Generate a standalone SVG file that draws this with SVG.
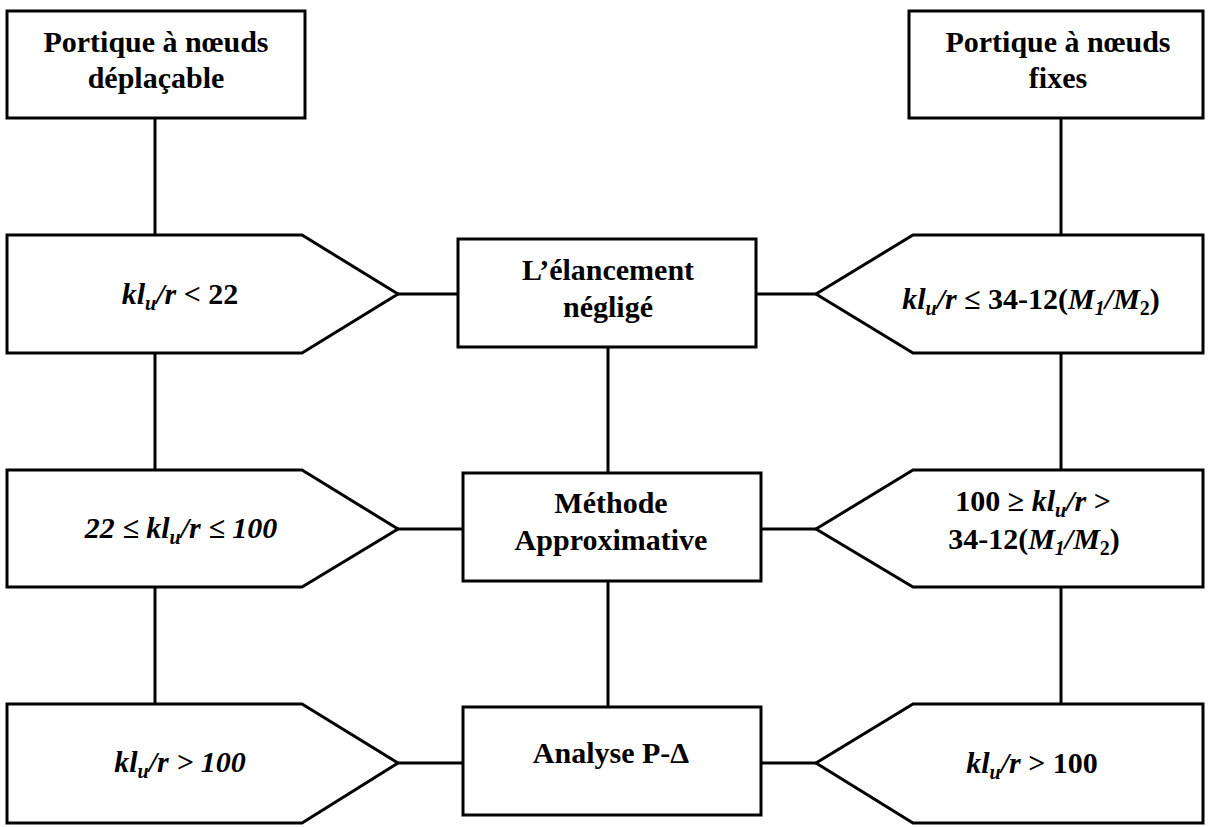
<svg xmlns="http://www.w3.org/2000/svg" width="1209" height="827" viewBox="0 0 1209 827" font-family="'Liberation Serif', 'DejaVu Serif', serif">
  <style>
    .shape { fill: #ffffff; stroke: #000000; stroke-width: 3; }
    .wire { stroke: #000000; stroke-width: 3; fill: none; }
    text { font-size: 30px; font-weight: bold; fill: #000000; text-anchor: middle; }
    .it { font-style: italic; }
    .sub { font-size: 20px; }
  </style>
  <rect width="1209" height="827" fill="#ffffff"/>

  <!-- connectors -->
  <g id="connectors">
    <line class="wire" x1="155" y1="118" x2="155" y2="235"/>
    <line class="wire" x1="155" y1="353" x2="155" y2="470"/>
    <line class="wire" x1="155" y1="587" x2="155" y2="704"/>
    <line class="wire" x1="1061" y1="118" x2="1061" y2="235"/>
    <line class="wire" x1="1061" y1="353" x2="1061" y2="470"/>
    <line class="wire" x1="1061" y1="587" x2="1061" y2="704"/>
    <line class="wire" x1="608" y1="347" x2="608" y2="473"/>
    <line class="wire" x1="608" y1="581" x2="608" y2="707"/>
    <line class="wire" x1="398" y1="294" x2="458" y2="294"/>
    <line class="wire" x1="756" y1="294" x2="816" y2="294"/>
    <line class="wire" x1="398" y1="529" x2="463" y2="529"/>
    <line class="wire" x1="761" y1="529" x2="816" y2="529"/>
    <line class="wire" x1="398" y1="763" x2="463" y2="763"/>
    <line class="wire" x1="761" y1="763" x2="816" y2="763"/>
  </g>

  <!-- frame types -->
  <g id="sway-frame">
    <rect class="shape" x="7" y="11" width="298" height="107"/>
    <text x="156" y="52">Portique à nœuds</text>
    <text x="156" y="88">déplaçable</text>
  </g>
  <g id="braced-frame">
    <rect class="shape" x="909" y="11" width="294" height="107"/>
    <text x="1058" y="52">Portique à nœuds</text>
    <text x="1058" y="88">fixes</text>
  </g>

  <!-- sway frame slenderness limits -->
  <g id="sway-low">
    <polygon class="shape" points="7,235 302,235 398,294 302,353 7,353"/>
    <text x="180" y="304"><tspan class="it">kl</tspan><tspan class="it sub" dy="6">u</tspan><tspan class="it" dy="-6">/r</tspan> &lt; 22</text>
  </g>
  <g id="sway-mid">
    <polygon class="shape" points="7,470 302,470 398,529 302,587 7,587"/>
    <text class="it" x="181" y="538">22 ≤ kl<tspan class="sub" dy="6">u</tspan><tspan dy="-6">/r ≤ 100</tspan></text>
  </g>
  <g id="sway-high">
    <polygon class="shape" points="7,704 302,704 398,763 302,823 7,823"/>
    <text class="it" x="180" y="772">kl<tspan class="sub" dy="6">u</tspan><tspan dy="-6">/r &gt; 100</tspan></text>
  </g>

  <!-- braced frame slenderness limits -->
  <g id="braced-low">
    <polygon class="shape" points="1203,235 913,235 816,294 913,353 1203,353"/>
    <text x="1031" y="309"><tspan class="it">kl</tspan><tspan class="it sub" dy="6">u</tspan><tspan class="it" dy="-6">/r</tspan> ≤ 34-12(<tspan class="it">M</tspan><tspan class="it sub" dy="6">1</tspan><tspan class="it" dy="-6">/M</tspan><tspan class="sub" dy="6">2</tspan><tspan dy="-6">)</tspan></text>
  </g>
  <g id="braced-mid">
    <polygon class="shape" points="1203,470 913,470 816,529 913,587 1203,587"/>
    <text x="1033" y="511">100 ≥ <tspan class="it">kl</tspan><tspan class="it sub" dy="6">u</tspan><tspan class="it" dy="-6">/r</tspan> &gt;</text>
    <text x="1034" y="549">34-12(<tspan class="it">M</tspan><tspan class="it sub" dy="6">1</tspan><tspan class="it" dy="-6">/M</tspan><tspan class="sub" dy="6">2</tspan><tspan dy="-6">)</tspan></text>
  </g>
  <g id="braced-high">
    <polygon class="shape" points="1203,704 913,704 816,763 913,823 1203,823"/>
    <text x="1032" y="773"><tspan class="it">kl</tspan><tspan class="it sub" dy="6">u</tspan><tspan class="it" dy="-6">/r</tspan> &gt; 100</text>
  </g>

  <!-- analysis methods -->
  <g id="slenderness-neglected">
    <rect class="shape" x="458" y="239" width="298" height="108"/>
    <text x="608" y="280">L’élancement</text>
    <text x="608" y="317">négligé</text>
  </g>
  <g id="approximate-method">
    <rect class="shape" x="463" y="473" width="298" height="108"/>
    <text x="611" y="513">Méthode</text>
    <text x="611" y="550">Approximative</text>
  </g>
  <g id="p-delta-analysis">
    <rect class="shape" x="463" y="707" width="298" height="108"/>
    <text x="611" y="763">Analyse P-Δ</text>
  </g>
</svg>
